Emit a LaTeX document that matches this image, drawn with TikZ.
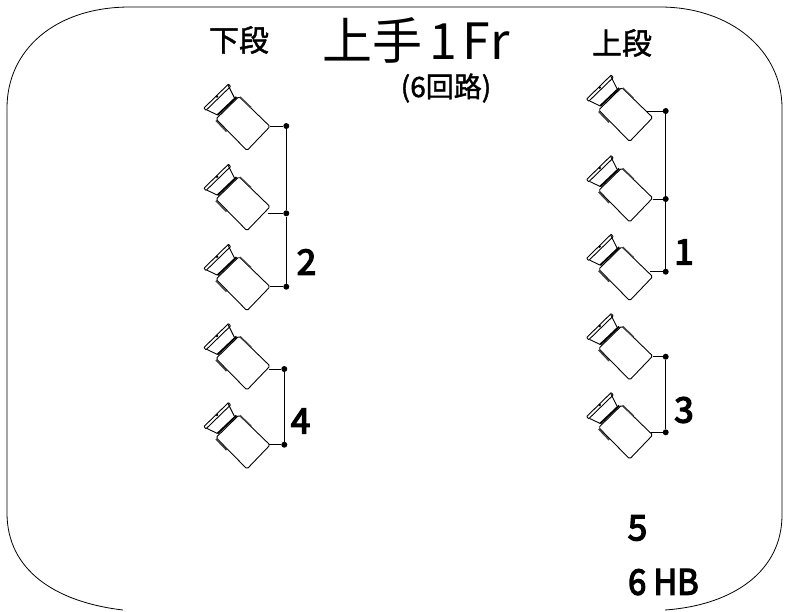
\documentclass[tikz,border=0pt]{standalone}
\usepackage{fontspec}
\setmainfont{Noto Sans CJK JP}
\newfontfamily\boldish[FakeBold=4]{Noto Sans CJK JP}
\newfontfamily\slightbold[FakeBold=1.5]{Noto Sans CJK JP}
\tikzset{
  wire/.style={line width=1pt,black},
  thin body/.style={line width=0.9pt,black},
  heavy/.style={line width=1.9pt,black},
  side/.style={line width=1.5pt,black!75},
  dot/.style={circle,fill=black,inner sep=0pt,minimum size=6pt},
  lbl/.style={inner sep=0pt,anchor=center,font=\boldish\fontsize{35}{35}\selectfont},
  head/.style={inner sep=0pt,font=\slightbold\fontsize{30}{30}\selectfont},
  pics/lamp/.style={code={
    % tip of the body is the origin
    \draw[thin body,rounded corners=1.5pt] (0,0) -- (-31,-30) -- (-54,-7.5) -- (-23,24) -- cycle;
    \draw[heavy] (-52.5,-11.5) -- (-33.5,-29.5);
    \draw[side] (-30,-29.5) -- (-19,-19);
    \draw[side] (-54,-6) -- (-43.5,5);
    \draw[thin body] (-52.5,-11.5) -- (-63,-16.5);
    \draw[thin body] (-35.5,-28.5) -- (-42,-41.5);
    \draw[thin body,rounded corners=0.6pt] (-41.5,-42.5) -- (-66,-18.5) -- (-64,-16.2) -- (-39.5,-40) -- cycle;
    \fill (-53,-30) circle (1.3pt);
  }}
}
\begin{document}
\begin{tikzpicture}[x=1pt,y=-1pt]
\useasboundingbox (0,0) rectangle (786,611);
\draw[line width=0.8pt] (123,610)
  .. controls (55,602) and (7,570) .. (7,513)
  -- (7,108)
  .. controls (7,50) and (55,7) .. (130,7)
  -- (660,7)
  .. controls (730,7) and (782,50) .. (782,108)
  -- (782,515)
  .. controls (782,570) and (735,605) .. (665,610);
\node[head] (t1) at (239,40) {下段};
\node[inner sep=0pt,font=\fontsize{50}{50}\selectfont] (t2) at (416.5,40) {上手\hspace{7pt}1\hspace{5pt}F\hspace{1pt}r};
\node[inner sep=0pt,font=\slightbold\fontsize{28}{28}\selectfont] (t3) at (446,88) {(6回路)};
\node[head] (t4) at (622,43) {上段};

% lamp tip x / tip y / wire start x / dot x / dot y
\foreach \n/\tx/\ty/\sx/\dx/\dy in {
  a/270/126.5/270/286.3/126,
  b/270/206.7/267.7/286.3/213.3,
  c/270/286.7/270/286.3/286.7,
  d/270/366/269/284.3/369,
  e/270/445/269/284.3/444.7,
  f/652.7/117.5/646.7/665.7/111,
  g/652.7/198/652.7/665.7/199,
  h/652.7/276.7/650/665.7/271.7,
  i/652.7/356/652.7/665.7/356.7,
  j/652.7/435/651/665.7/432.3}{
  \pic at (\tx,\ty) {lamp};
  \node[dot] (\n) at (\dx,\dy) {};
  \coordinate (\n t) at (\sx,\dy);
  \draw[wire] (\n t) -- (\n);
}
\draw[wire] (a) -- (b) -- (c);
\draw[wire] (d) -- (e);
\draw[wire] (f) -- (g) -- (h);
\draw[wire] (i) -- (j);

\node[lbl] (n2) at (306.5,262) {2};
\node[lbl] (n4) at (300.5,421) {4};
\node[lbl] (n1) at (684,252) {1};
\node[lbl] (n3) at (684,410) {3};
\node[lbl] (n5) at (637.5,528) {5};
\node[lbl,anchor=west,xscale=0.93] (n6) at (628,582) {6 HB};
\end{tikzpicture}
\end{document}
